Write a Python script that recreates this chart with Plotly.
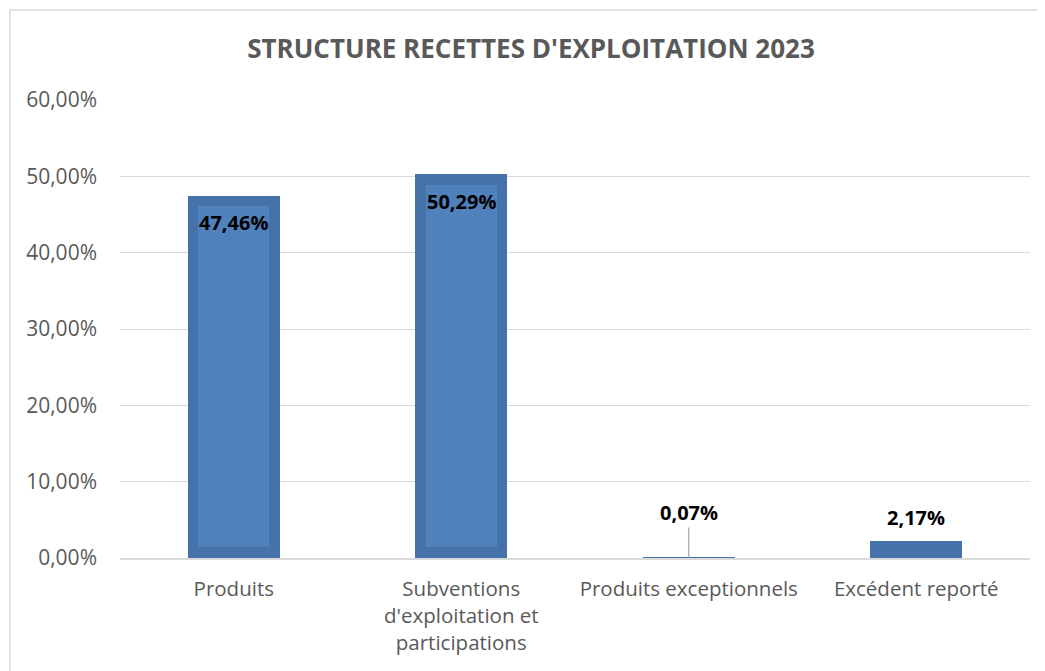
import plotly.graph_objects as go

categories = ["Produits", "Subventions<br>d'exploitation et<br>participations",
              "Produits exceptionnels", "Excédent reporté"]
values = [47.46, 50.29, 0.07, 2.17]
y_ticks = [0, 10, 20, 30, 40, 50, 60]

def fmt(v):
    return f"{v:.2f}".replace(".", ",") + "%"

FONT = "Open Sans"
OUTER = "#4672AA"
INNER = "#4F81BD"
inset = 1.4  # ~10px bevel in data units

fig = go.Figure()
fig.add_trace(go.Bar(x=categories, y=values, width=0.405,
                     marker=dict(color=OUTER, line=dict(width=0)),
                     hoverinfo="skip"))
inner_x = [c for c, v in zip(categories, values) if v > 2 * inset + 1]
inner_y = [v - 2 * inset for v in values if v > 2 * inset + 1]
fig.add_trace(go.Bar(x=inner_x, y=inner_y, base=[inset] * len(inner_y), width=0.31,
                     marker=dict(color=INNER, line=dict(width=0)),
                     hoverinfo="skip"))

for c, v in zip(categories, values):
    if v > 10:
        fig.add_annotation(x=c, y=v, text=f"<b>{fmt(v)}</b>", showarrow=False,
                           yanchor="middle", yshift=-27,
                           font=dict(family=FONT, size=20, color="#000000"))
    elif v < 0.5:
        fig.add_annotation(x=c, y=v, text=f"<b>{fmt(v)}</b>", showarrow=True,
                           arrowhead=0, arrowwidth=1.2, arrowcolor="#A6A6A6",
                           ax=0, ay=-45,
                           font=dict(family=FONT, size=20, color="#000000"))
    else:
        fig.add_annotation(x=c, y=v, text=f"<b>{fmt(v)}</b>", showarrow=False,
                           yanchor="middle", yshift=24,
                           font=dict(family=FONT, size=20, color="#000000"))

# chart-area border
fig.add_shape(type="rect", xref="paper", yref="paper",
              x0=-0.1209, x1=1.08, y0=-0.4, y1=1.1965,
              line=dict(color="#D9D9D9", width=1.5), fillcolor="rgba(0,0,0,0)", layer="below")

fig.update_layout(
    width=1037, height=663,
    margin=dict(l=112, r=15, t=92, b=113),
    paper_bgcolor="white", plot_bgcolor="white",
    barmode="overlay", bargap=0, showlegend=False,
    separators=", ",
    title=dict(text="<b>STRUCTURE RECETTES D'EXPLOITATION 2023</b>",
               x=523 / 1037, xref="container", xanchor="center",
               y=1 - 41 / 663, yref="container", yanchor="middle",
               font=dict(family=FONT, size=26, color="#595959")),
    font=dict(family=FONT, size=20, color="#595959"),
)
fig.update_xaxes(showline=True, linecolor="#D9D9D9", linewidth=1.5,
                 ticks="", tickfont=dict(family=FONT, size=20.5, color="#595959"),
                 ticklabelstandoff=12, showgrid=False)
fig.update_yaxes(range=[0, 60], tickvals=y_ticks,
                 ticktext=[fmt(t) for t in y_ticks],
                 showgrid=True, gridcolor="#D9D9D9", gridwidth=1.2,
                 zeroline=False, showline=False, ticks="",
                 tickfont=dict(family=FONT, size=21, color="#595959"),
                 ticklabelstandoff=22)

fig.write_html("out.html")
